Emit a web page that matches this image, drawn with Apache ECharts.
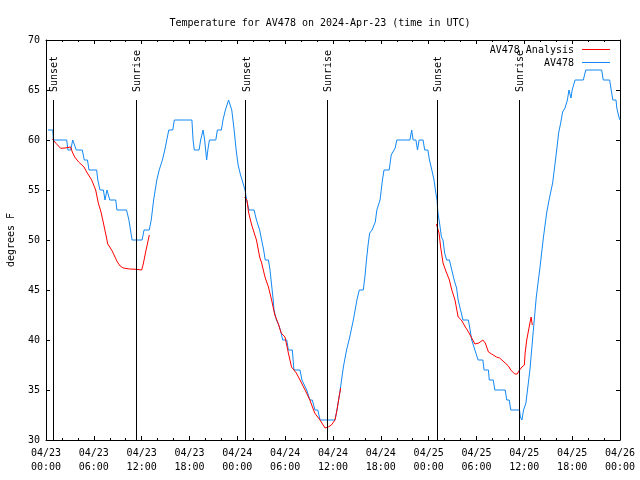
<!DOCTYPE html>
<html><head><meta charset="utf-8">
<script src="https://cdn.jsdelivr.net/npm/echarts@6/dist/echarts.min.js"></script>
<style>html,body{margin:0;padding:0;background:#fff}#c{width:640px;height:480px}</style>
</head><body><div id="c"></div>
<script>
const titleText = 'Temperature for AV478 on 2024-Apr-23 (time in UTC)';
const obsName = 'AV478';
const anaName = 'AV478 Analysis';
const dateLabels = ['04/23','04/23','04/23','04/23','04/24','04/24','04/24','04/24','04/25','04/25','04/25','04/25','04/26'];
const timeLabels = ['00:00','06:00','12:00','18:00','00:00','06:00','12:00','18:00','00:00','06:00','12:00','18:00','00:00'];
const sunsetHours = [0.92, 25.05, 49.09];
const sunriseHours = [11.33, 35.29, 59.37];

const obsHours = [0.25,0.85,0.92,2.6,2.75,3.1,3.35,3.55,3.8,4.55,4.8,5.2,5.4,6.35,6.5,6.7,6.77,7.2,7.4,7.5,7.65,7.9,8.0,8.75,8.9,10.1,10.4,10.6,10.8,12.05,12.3,12.95,13.2,13.5,13.9,14.2,14.6,14.9,15.15,15.4,15.9,16.1,18.3,18.45,18.6,19.2,19.4,19.7,19.9,20.15,20.3,20.5,21.3,21.5,22.0,22.2,22.5,22.9,23.05,23.3,23.6,23.85,24.1,24.4,24.6,24.96,25.17,25.46,26.1,26.4,26.8,27.05,27.3,27.5,27.9,28.1,28.3,28.5,28.6,28.9,29.2,29.4,29.7,30.2,30.4,30.9,31.0,31.1,31.86,32.1,32.7,33.1,33.4,33.74,34.1,34.37,36.25,36.5,36.9,37.3,37.7,38.1,38.55,39.0,39.3,39.8,40.0,40.2,40.4,40.6,40.9,41.3,41.5,41.9,42.2,42.4,43.05,43.3,43.8,44.0,45.65,45.87,46.05,46.4,46.6,46.8,47.3,47.5,47.9,48.1,48.4,48.67,48.9,49.05,49.15,49.4,49.6,49.8,50.0,50.26,50.6,50.9,51.2,51.5,51.7,52.0,52.3,52.98,53.2,53.4,53.8,54.2,54.8,54.95,55.5,55.6,56.1,56.3,57.6,57.8,58.1,58.3,59.4,59.5,59.7,59.9,60.2,60.35,60.7,61.1,61.5,61.97,62.4,62.8,63.1,63.55,63.8,64.06,64.3,64.56,64.8,65.1,65.4,65.6,65.85,66.0,66.36,67.4,67.7,69.7,69.9,70.7,70.9,71.1,71.5,71.6,71.9,72.0];
const obsTemps = [61,61,60,60,59,59,60,60,59,59,58,58,57,57,56,56,55,55,54,54,55,55,54,54,53,53,52,51,50,50,51,51,52,54,56,57,58,59,60,61,61,62,62,60,59,59,60,61,60,58,59,60,60,61,61,62,63,64,64,63,61,59,57.5,56.5,56,55,54,53,53,52,51,50,49,48,48,47,45.5,44,43,42,41.5,41,40,40,39,39,38,37,37,36,35,34,34,33,33,32,32,33,35,37.3,39,40.3,42,44,45,45,46.3,48,49.5,50.7,51,51.8,53,54,56,57,57,58.5,59.2,60,60,61,60,60,59,60,60,59,59,58,57,56,54.7,54,52.8,51.5,50.3,50,48.7,48,48,47,46,45.2,44,43,42,42,41,40,39,38,38,37,37,36,36,35,35,34,34,33,33,32.3,32,33,33.7,34.7,37,40.7,44.3,47.3,50.3,52.7,54,55.7,57.3,59,60.7,61.7,62.8,63.2,64,65,64.2,65,66,66,67,67,66,66,65,64,64,63.2,62.2,62];

const anaHours1 = [0.79,1.25,1.84,2.38,2.5,3.1,3.3,3.6,4.1,4.77,5.1,5.5,5.73,5.94,6.23,6.56,6.9,7.2,7.6,7.74,8.0,8.3,8.95,9.3,9.7,10.5,11.29,12.0,12.2,12.5,12.96];
const anaTemps1 = [60.1,59.67,59.17,59.2,59.3,59.3,58.8,58.3,57.8,57.3,56.8,56.3,56,55.8,55,53.7,52.8,51.7,50.2,49.6,49.3,48.9,47.8,47.4,47.2,47.1,47.07,47.0,47.6,48.8,50.5];
const anaHours2 = [24.9,25.2,25.4,25.8,26.0,26.4,26.8,27.05,27.47,27.9,28.3,28.7,29.1,29.5,29.98,30.4,30.8,31.4,31.86,32.5,33.1,33.7,34.37,35.0,35.4,35.8,36.25,36.5,36.7,36.96];
const anaTemps2 = [54.3,54,52.8,51.5,51.3,50,48.3,47.7,46.3,45.3,44,42.5,41.7,40.7,40.3,38.7,37.3,36.7,36,35,34,32.7,32,31.2,31.3,31.5,32,33,34,35.2];
const anaHours3 = [48.97,49.1,49.3,49.5,49.8,50.2,50.6,50.9,51.3,51.7,52.1,52.6,53.0,53.4,53.8,54.3,54.8,55.1,55.5,55.9,56.5,56.9,57.6,58.0,58.3,58.8,59.1,59.4,59.7,60.0,60.1,60.3,60.7,60.85,61.0];
const anaTemps3 = [51.6,51.5,50.7,49.3,47.7,46.8,46,45,44,42.3,42,41.3,40.8,40.2,39.6,39.7,40,39.7,38.8,38.6,38.3,38.2,37.7,37.4,37,36.6,36.6,37,37.3,37.5,38.7,40,41.7,42.3,41.5];

const FONT = 'DejaVu Sans Mono';
const BLUE = '#1188f2';
const RED = '#ff0000';

function pairs(hs, ts){ return hs.map((h,i)=>[h, ts[i]]); }
const obsData = pairs(obsHours, obsTemps);
const anaData = [].concat(pairs(anaHours1, anaTemps1), [['-','-']], pairs(anaHours2, anaTemps2), [['-','-']], pairs(anaHours3, anaTemps3));

const sunLines = [];
sunsetHours.concat(sunriseHours).forEach(h => sunLines.push([{coord:[h,30]},{coord:[h,64]}]));

function xAx(pos, showLabel){
  return {
    type:'value', min:0, max:72, interval:6, position:pos,
    axisLine:{show:true, onZero:false, lineStyle:{color:'#000', width:1}},
    axisTick:{show:true, inside:true, length:4, lineStyle:{color:'#000'}},
    minorTick:{show:true, splitNumber:3, length:2, lineStyle:{color:'#000'}},
    splitLine:{show:false},
    axisLabel:{show:showLabel, color:'#000', fontFamily:FONT, fontSize:10, lineHeight:14, margin:6,
      formatter: v => { const i = Math.round(v/6); return dateLabels[i] + '\n' + timeLabels[i]; }}
  };
}
function yAx(pos, showLabel){
  return {
    type:'value', min:30, max:70, interval:5, position:pos,
    axisLine:{show:true, onZero:false, lineStyle:{color:'#000', width:1}},
    axisTick:{show:true, inside:true, length:4, lineStyle:{color:'#000'}},
    splitLine:{show:false},
    axisLabel:{show:showLabel, color:'#000', fontFamily:FONT, fontSize:10, margin:6},
    name: showLabel ? 'degrees F' : '', nameLocation:'middle', nameGap:30, nameRotate:90,
    nameTextStyle:{color:'#000', fontFamily:FONT, fontSize:10}
  };
}

const chart = echarts.init(document.getElementById('c'), null, {renderer:'canvas'});
chart.setOption({
  animation:false,
  backgroundColor:'#fff',
  title:{text:titleText, left:'center', top:13, textStyle:{color:'#000', fontFamily:FONT, fontSize:10, fontWeight:'normal'}},
  grid:{left:46, right:20, top:40, bottom:40, containLabel:false, outerBoundsMode:'none'},
  xAxis:[xAx('bottom', true), xAx('top', false)],
  yAxis:[yAx('left', true), yAx('right', false)],
  series:[
    {name:anaName, type:'line', data:anaData, showSymbol:false, symbol:'none', connectNulls:false,
     lineStyle:{color:RED, width:1}, itemStyle:{color:RED}, z:3},
    {name:obsName, type:'line', data:obsData, showSymbol:false, symbol:'none',
     lineStyle:{color:BLUE, width:1}, itemStyle:{color:BLUE}, z:2,
     markLine:{silent:true, symbol:['none','none'], label:{show:false}, lineStyle:{color:'#000', width:1, type:'solid'}, data:sunLines}}
  ]
});

const g = [];
function addSunLabel(h, txt){
  const p = chart.convertToPixel({gridIndex:0}, [h, 64.8]);
  g.push({type:'text', x:Math.round(p[0])+1, y:p[1], rotation:Math.PI/2,
    style:{text:txt, fill:'#000', font:'10px "' + FONT + '"', align:'left', verticalAlign:'middle'}, z:10});
}
sunsetHours.forEach(h => addSunLabel(h, 'Sunset'));
sunriseHours.forEach(h => addSunLabel(h, 'Sunrise'));
// legend
g.push({type:'text', x:574, y:50, style:{text:anaName, fill:'#000', font:'10px "' + FONT + '"', align:'right', verticalAlign:'middle'}, z:10});
g.push({type:'line', shape:{x1:582, y1:49.5, x2:610, y2:49.5}, style:{stroke:RED, lineWidth:1}, z:10});
g.push({type:'text', x:574, y:63, style:{text:obsName, fill:'#000', font:'10px "' + FONT + '"', align:'right', verticalAlign:'middle'}, z:10});
g.push({type:'line', shape:{x1:582, y1:62.5, x2:610, y2:62.5}, style:{stroke:BLUE, lineWidth:1}, z:10});
chart.setOption({graphic:g});
</script>
</body></html>
